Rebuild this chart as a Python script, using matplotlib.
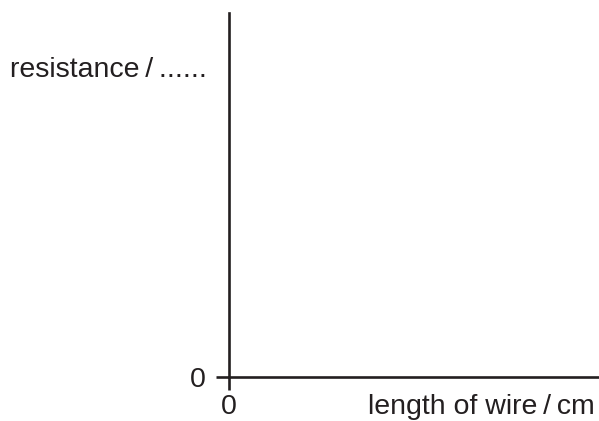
import matplotlib
matplotlib.use('Agg')
import matplotlib.pyplot as plt

# axis texts of the blank graph
y_label = 'resistance\u2009/\u2009......'
x_label = 'length of wire\u2009/\u2009cm'
x_ticks = [0]
y_ticks = [0]
tick_labels = ['0']

plt.rcParams['font.family'] = ['Liberation Sans', 'DejaVu Sans']

fig = plt.figure(figsize=(5.99, 4.21), dpi=100, facecolor='white')
ax = fig.add_axes([229 / 599, 44 / 421, 370 / 599, 364 / 421])
ax.set_xlim(0, 1)
ax.set_ylim(0, 1)

for s in ['top', 'right']:
    ax.spines[s].set_visible(False)
for s in ['left', 'bottom']:
    ax.spines[s].set_linewidth(1.9)
    ax.spines[s].set_color('#231f20')

ax.set_xticks(x_ticks)
ax.set_xticklabels(tick_labels)
ax.set_yticks(y_ticks)
ax.set_yticklabels(tick_labels)
ax.tick_params(direction='out', length=9.5, width=1.9, color='#231f20',
               labelsize=20.5, labelcolor='#231f20')
ax.tick_params(axis='y', pad=7)
ax.tick_params(axis='x', pad=3)

# labels placed by their baselines (kept clear of the bottom edge)
fig.text(595 / 599, 1 - 414 / 421, x_label, ha='right', va='baseline',
         fontsize=20.5, color='#231f20')
fig.text(10 / 599, 1 - 77 / 421, y_label, ha='left', va='baseline',
         fontsize=20.5, color='#231f20')

fig.savefig('out.png', dpi=100)
